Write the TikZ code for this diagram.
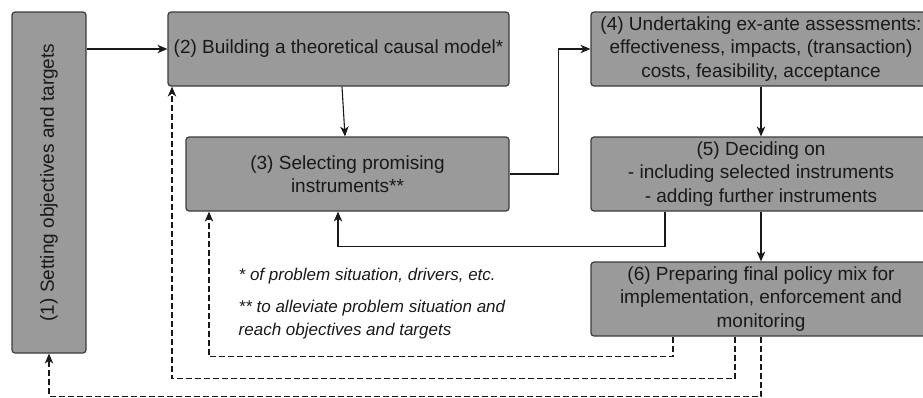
\documentclass[tikz,border=0pt]{standalone}
\usepackage{fontspec}
\setmainfont{Liberation Sans}
\usetikzlibrary{arrows.meta}
\definecolor{boxfill}{RGB}{154,154,154}
\definecolor{boxline}{RGB}{60,60,60}
\definecolor{conn}{RGB}{25,25,25}
\tikzset{
  stepbox/.style={draw=boxline, line width=1.2pt, fill=boxfill, rounded corners=3pt,
    align=center, inner sep=2pt, font=\fontsize{19}{23.5}\selectfont, text=black!90},
  arr/.style={draw=conn, line width=1.1pt, -{Stealth[length=10pt,width=8.5pt,inset=3pt]}},
  darr/.style={arr, dash pattern=on 6pt off 3pt},
  fnote/.style={font=\fontsize{17}{23}\selectfont\itshape, anchor=west, align=left, inner sep=0pt, text=black!90}
}
\begin{document}
\begin{tikzpicture}[x=1pt,y=-1pt]
\useasboundingbox (0,0) rectangle (923,397);
\clip (0,0) rectangle (923,397);
\node[stepbox, minimum width=74pt, minimum height=341pt] (b1) at (49,182.5) {};
\node[rotate=90, font=\fontsize{19}{23.5}\selectfont, text=black!90] (t1) at (b1.center) {(1) Setting objectives and targets};
\node[stepbox, minimum width=341pt, minimum height=74pt] (b2) at (338.5,49) {(2) Building a theoretical causal model*};
\node[stepbox, minimum width=323pt, minimum height=74pt] (b3) at (347.5,174) {(3) Selecting promising\\instruments**};
\node[stepbox, minimum width=340pt, minimum height=74pt] (b4) at (761,49) {(4) Undertaking ex-ante assessments:\\effectiveness, impacts, (transaction)\\costs, feasibility, acceptance};
\node[stepbox, minimum width=340pt, minimum height=74pt] (b5) at (761,174) {(5) Deciding on\\- including selected instruments\\- adding further instruments};
\node[stepbox, minimum width=340pt, minimum height=74pt] (b6) at (761,299) {(6) Preparing final policy mix for\\implementation, enforcement and\\monitoring};
\node[fnote] (f1) at (238.5,276) {* of problem situation, drivers, etc.};
\node[fnote] (f2) at (238.5,319.5) {** to alleviate problem situation and\\reach objectives and targets};
% solid connectors
\draw[arr] (b1.east |- b2.west) -- (b2.west);
\draw[arr] ([xshift=3.5pt]b2.south) -- ([xshift=-2.5pt]b3.north);
\draw[arr] (b3.east) -- ++(49,0) |- (b4.west);
\draw[arr] (b4.south) -- (b5.north);
\draw[arr] ([xshift=-96pt]b5.south) -- ++(0,35) -| ([xshift=-9.5pt]b3.south);
\draw[arr] (b5.south) -- (b6.north);
% dashed feedback connectors
\draw[darr] ([xshift=-88pt]b6.south) -- ++(0,20) -| ([xshift=-138.5pt]b3.south);
\draw[darr] ([xshift=-26pt]b6.south) -- ++(0,42) -| ([xshift=-166.5pt]b2.south);
\draw[darr] (b6.south) -- ++(0,59.5) -| (b1.south);
\end{tikzpicture}
\end{document}
